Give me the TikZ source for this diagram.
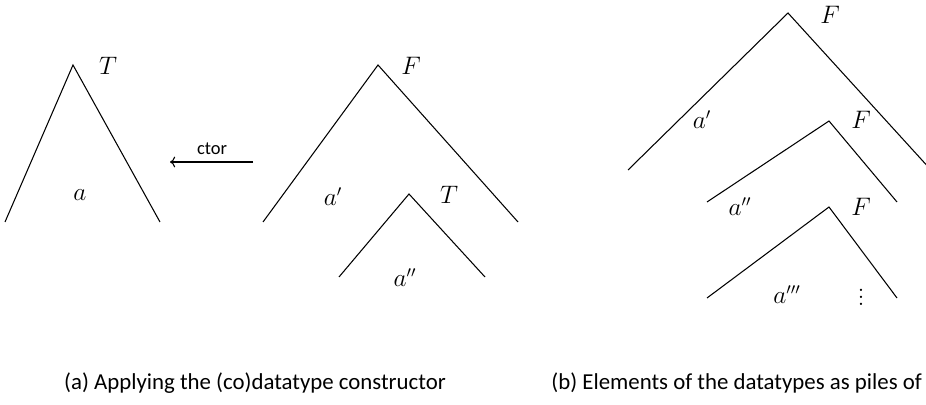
\documentclass[tikz,border=0pt]{standalone}
\usepackage{amsmath,amssymb}
\usepackage{fontspec}
\setsansfont{Carlito}
\usetikzlibrary{arrows.meta}

\begin{document}
\begin{tikzpicture}[x=0.02cm,y=0.02cm,line width=0.6pt,
  lbl/.style={font=\fontsize{13.5}{16}\selectfont},
  capt/.style={font=\sffamily\fontsize{13}{16}\selectfont,anchor=base}]
\useasboundingbox (0,0) rectangle (926,405);
% (a) left tree
\coordinate (tA) at (73,340); \coordinate (tAl) at (5,183); \coordinate (tAr) at (160,183);
\draw (tAl) -- (tA) -- (tAr);
\node[lbl] (labT) at (108,339) {$T$};
\node[lbl] (laba) at (80,210) {$a$};
% constructor arrow
\coordinate (ctorR) at (253,243); \coordinate (ctorL) at (170,243);
\draw[->] (ctorR) -- (ctorL);
\node[font=\sffamily\fontsize{10.5}{12}\selectfont] (ctor) at (212,256) {ctor};
% (a) right tree
\coordinate (fA) at (378,340); \coordinate (fAl) at (263,183); \coordinate (fAr) at (518,183);
\draw (fAl) -- (fA) -- (fAr);
\node[lbl] (labF) at (411,339) {$F$};
\node[lbl] (laba1) at (333,208) {$a'$};
\coordinate (sA) at (409,211); \coordinate (sAl) at (339,128); \coordinate (sAr) at (485,128);
\draw (sAl) -- (sA) -- (sAr);
\node[lbl] (labT1) at (449,210) {$T$};
\node[lbl] (laba2) at (405,127) {$a''$};
% (b) pile
\coordinate (p1) at (788,392); \coordinate (p1l) at (628,235); \coordinate (p1r) at (931,235);
\draw (p1l) -- (p1) -- (p1r);
\node[lbl] (labF1) at (830,390) {$F$};
\node[lbl] (labb1) at (702,285) {$a'$};
\coordinate (p2) at (829,284); \coordinate (p2l) at (707,203); \coordinate (p2r) at (897,203);
\draw (p2l) -- (p2) -- (p2r);
\node[lbl] (labF2) at (861,285) {$F$};
\node[lbl] (labb2) at (740,198) {$a''$};
\coordinate (p3) at (829,198); \coordinate (p3l) at (707,107); \coordinate (p3r) at (897,107);
\draw (p3l) -- (p3) -- (p3r);
\node[lbl] (labF3) at (861,198) {$F$};
\node[lbl] (labb3) at (787,110) {$a'''$};
\node[lbl,inner sep=0pt] (dots) at (861,113) {$\vdots$};
% captions
\node[capt] (capa) at (255,15) {(a) Applying the (co)datatype constructor};
\node[capt,anchor=base west] (capb) at (545,15) {(b) Elements of the datatypes as piles of};
\end{tikzpicture}
\end{document}
